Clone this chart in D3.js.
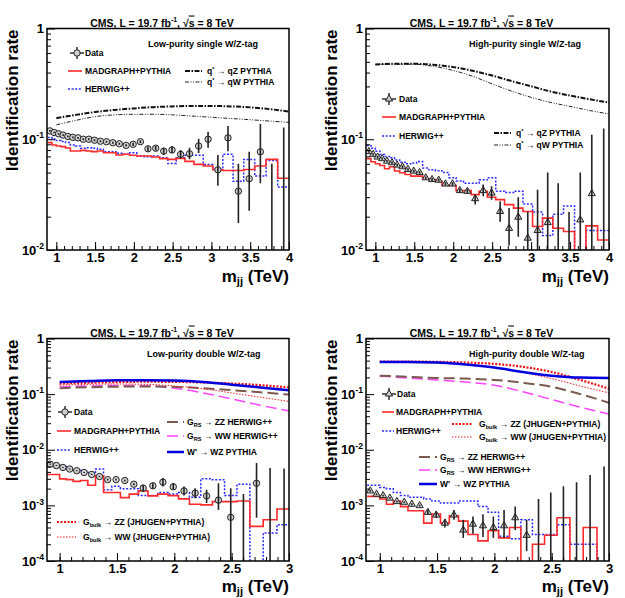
<!DOCTYPE html>
<html>
<head>
<meta charset="utf-8">
<script src="https://cdn.jsdelivr.net/npm/d3@7"></script>
<style>
body { margin: 0; background: #fff; }
svg text { font-family: "Liberation Sans", Arial, Helvetica, sans-serif; font-weight: bold; fill: #000; }
</style>
</head>
<body>
<div id="chart"></div>
<script>
// dijet mass bin edges (TeV)
const massEdges = [0.89, 0.944, 1.0, 1.058, 1.118, 1.181, 1.246, 1.313, 1.383, 1.455, 1.53, 1.607, 1.687, 1.77,
  1.856, 1.945, 2.037, 2.132, 2.231, 2.332, 2.438, 2.546, 2.659, 2.775, 2.895, 3.019, 3.147, 3.279, 3.416,
  3.558, 3.704, 3.854, 4.01];

const topTicks = [1, 1.5, 2, 2.5, 3, 3.5, 4];
const bottomTicks = [1, 1.5, 2, 2.5, 3];
const sigMassTop = [1.0, 1.25, 1.5, 1.75, 2.0, 2.25, 2.5, 2.75, 3.0, 3.25, 3.5, 3.75, 4.0];
const sigMassBottom = [1.0, 1.25, 1.5, 1.75, 2.0, 2.25, 2.5, 2.75, 3.0];

// low-purity single W/Z-tag
const lpSingleData = [0.119, 0.115, 0.112, 0.109, 0.106, 0.104, 0.103, 0.100, 0.100, 0.098, 0.096, 0.095, 0.093, 0.091,
  0.088, 0.090, 0.095, 0.082, 0.083, 0.078, 0.080, 0.073, 0.074, 0.087, 0.100, 0.053, 0.103, 0.034, 0.044, 0.077, 0, 0];
const lpSingleHi = [0.121, 0.117, 0.114, 0.111, 0.108, 0.106, 0.105, 0.102, 0.102, 0.100, 0.098, 0.097, 0.095, 0.093,
  0.090, 0.093, 0.098, 0.086, 0.087, 0.084, 0.087, 0.080, 0.084, 0.101, 0.117, 0.072, 0.132, 0.060, 0.077, 0.137, 0.060, 0.128];
const lpSingleLo = [0.117, 0.113, 0.110, 0.107, 0.104, 0.102, 0.101, 0.098, 0.098, 0.096, 0.094, 0.093, 0.091, 0.089,
  0.086, 0.087, 0.092, 0.078, 0.079, 0.073, 0.075, 0.067, 0.066, 0.075, 0.084, 0.038, 0.078, 0.0175, 0.0226, 0.040, 0, 0];
const lpSingleMadgraph = [0.0933, 0.0888, 0.0870, 0.0858, 0.0834, 0.0783, 0.0783, 0.0794, 0.0783, 0.0773, 0.0783, 0.0756,
  0.0756, 0.0721, 0.0731, 0.0716, 0.0706, 0.0706, 0.0691, 0.0668, 0.0658, 0.0672, 0.0631, 0.0593, 0.0573, 0.0530, 0.0523,
  0.0523, 0.0534, 0.0573, 0.0658, 0.0445];
const lpSingleHerwig = [0.1036, 0.1007, 0.0973, 0.0952, 0.0933, 0.0888, 0.0870, 0.0828, 0.0840, 0.0828, 0.0811, 0.0773,
  0.0773, 0.0746, 0.0731, 0.0756, 0.0706, 0.0696, 0.0706, 0.0681, 0.0605, 0.0681, 0.0716, 0.0716, 0.0593, 0.0534, 0.0731,
  0.0418, 0.0658, 0.0465, 0.0644, 0.0371];
const lpSingleQstarZ = [0.155, 0.166, 0.176, 0.184, 0.190, 0.195, 0.198, 0.200, 0.200, 0.198, 0.194, 0.187, 0.178];
const lpSingleQstarW = [0.135, 0.148, 0.160, 0.166, 0.168, 0.168, 0.166, 0.162, 0.158, 0.154, 0.150, 0.146, 0.142];

// high-purity single W/Z-tag
const hpSingleData = [0.0773, 0.0731, 0.0691, 0.0668, 0.0635, 0.0614, 0.0585, 0.0565, 0.0534, 0.0516, 0.0501, 0.0449,
  0.0433, 0.0427, 0.0395, 0.0395, 0.0344, 0.0339, 0.0291, 0.0344, 0.0327, 0.0223, 0.0157, 0.0198, 0.0128, 0.0150, 0.0177,
  0, 0, 0.0187, 0.0323, 0];
const hpSingleHi = [0.0790, 0.0748, 0.0707, 0.0684, 0.0650, 0.0629, 0.0600, 0.0580, 0.0548, 0.0530, 0.0515, 0.0462,
  0.0446, 0.0440, 0.0408, 0.0410, 0.0360, 0.0355, 0.0316, 0.0390, 0.0376, 0.0275, 0.0240, 0.0300, 0.0220, 0.0350, 0.0500,
  0.040, 0.022, 0.050, 0.110, 0.125];
const hpSingleLo = [0.0756, 0.0714, 0.0675, 0.0652, 0.0620, 0.0599, 0.0570, 0.0550, 0.0520, 0.0502, 0.0487, 0.0436,
  0.0420, 0.0414, 0.0382, 0.0380, 0.0330, 0.0323, 0.0257, 0.0305, 0.0285, 0.0180, 0.0110, 0.0132, 0, 0, 0,
  0, 0, 0, 0, 0];
const hpSingleMadgraph = [0.0668, 0.0627, 0.0601, 0.0580, 0.0541, 0.0565, 0.0516, 0.0498, 0.0481, 0.0465, 0.0465, 0.0442,
  0.0433, 0.0418, 0.0382, 0.0382, 0.0344, 0.0344, 0.0316, 0.0339, 0.0299, 0.0285, 0.0257, 0.0239, 0.0223, 0.0163, 0.0194,
  0.0157, 0.0147, 0, 0.0165, 0.0123];
const hpSingleHerwig = [0.088, 0.083, 0.078, 0.073, 0.070, 0.068, 0.065, 0.062, 0.060, 0.061, 0.063, 0.055, 0.053, 0.052,
  0.050, 0.045, 0.042, 0.040, 0.040, 0.043, 0.045, 0.034, 0.033, 0.034, 0.026, 0.022, 0.0135, 0.021, 0.025, 0, 0.015, 0.015];
const hpSingleQstarZ = [0.474, 0.480, 0.480, 0.470, 0.448, 0.415, 0.376, 0.335, 0.301, 0.270, 0.248, 0.230, 0.214];
const hpSingleQstarW = [0.474, 0.475, 0.476, 0.455, 0.418, 0.370, 0.316, 0.272, 0.239, 0.215, 0.198, 0.182, 0.169];

// low-purity double W/Z-tag
const lpDoubleData = [0.0055, 0.0052, 0.0048, 0.0045, 0.0042, 0.0039, 0.0036, 0.0033, 0.0029, 0.0029, 0.0028, 0.0024,
  0.00204, 0.00225, 0.00261, 0.00216, 0.00182, 0.00166, 0.00148, 0.00124, 0.00061, 0, 0.0025, 0, 0];
const lpDoubleHi = [0.0056, 0.0053, 0.0049, 0.0046, 0.0043, 0.0040, 0.0037, 0.0034, 0.0030, 0.0030, 0.0029, 0.0025,
  0.00234, 0.0025, 0.00309, 0.0025, 0.00218, 0.00204, 0.0019, 0.0025, 0.00204, 0.0016, 0.0058, 0.0047, 0.0046];
const lpDoubleLo = [0.0054, 0.0051, 0.0047, 0.0044, 0.0041, 0.0038, 0.0035, 0.0032, 0.0028, 0.0028, 0.0027, 0.0023,
  0.00177, 0.0020, 0.00218, 0.0019, 0.0015, 0.00135, 0.0011, 0.00083, 0, 0, 0.0006, 0, 0];
const lpDoubleMadgraph = [0.0036, 0.0036, 0.0030, 0.0029, 0.0027, 0.0028, 0.0023, 0.0034, 0.0017, 0.0017, 0.00138,
  0.00159, 0.00182, 0.00148, 0.00159, 0.0015, 0.00131, 0.00105, 0.00102, 0.00117, 0.00117, 0.0012, 0.00042, 0.00055, 0.00086];
const lpDoubleHerwig = [0.0058, 0.0053, 0.0050, 0.0046, 0.0043, 0.0041, 0.0039, 0.0045, 0.0019, 0.0022, 0.0020, 0.0020,
  0.0015, 0.0015, 0.0017, 0.0016, 0.0017, 0.0014, 0.0030, 0.0029, 0.0015, 0.0024, 0, 0.00032, 0.00045];
const lpDoubleWprime = [0.165, 0.172, 0.177, 0.178, 0.175, 0.165, 0.148, 0.132, 0.117];
const lpDoubleBulkZZ = [0.155, 0.160, 0.165, 0.167, 0.166, 0.162, 0.155, 0.145, 0.132];
const lpDoubleBulkWW = [0.145, 0.150, 0.152, 0.150, 0.140, 0.125, 0.105, 0.088, 0.074];
const lpDoubleRSZZ = [0.128, 0.133, 0.136, 0.137, 0.135, 0.128, 0.118, 0.108, 0.098];
const lpDoubleRSWW = [0.135, 0.140, 0.143, 0.142, 0.128, 0.105, 0.082, 0.063, 0.050];

// high-purity double W/Z-tag
const hpDoubleData = [0.00182, 0.00159, 0.0015, 0.00135, 0.00117, 0.00114, 0.00105, 0.00099, 0.00075, 0.00067, 0.00048,
  0.00067, 0.00036, 0.00046, 0.00043, 0.0004, 0.00043, 0.0006, 0.00029, 0, 0, 0, 0, 0, 0];
const hpDoubleHi = [0.00188, 0.00164, 0.00155, 0.0014, 0.00121, 0.00118, 0.00109, 0.00103, 0.00083, 0.00077, 0.00057,
  0.00083, 0.00055, 0.00063, 0.00069, 0.00063, 0.00083, 0.00095, 0.00055, 0.0013, 0.0017, 0.0022, 0.0026, 0.0035, 0.005];
const hpDoubleLo = [0.00176, 0.00154, 0.00145, 0.0013, 0.00113, 0.0011, 0.00101, 0.00095, 0.00067, 0.00059, 0.0004,
  0.00055, 0.00026, 0.00031, 0.00027, 0.00026, 0.00026, 0.00036, 0.00015, 0, 0, 0, 0, 0, 0];
const hpDoubleMadgraph = [0.00145, 0.00145, 0.0013, 0.00105, 0.0012, 0.00095, 0.0008, 0.0008, 0.00048, 0.0007, 0.00048,
  0.00065, 0.00052, 0.0003, 0.00023, 0.00035, 0.00026, 0.0004, 0, 0.0002, 0.00029, 0.0006, 0, 0.0004, 0];
const hpDoubleHerwig = [0.0023, 0.0023, 0.0021, 0.0020, 0.0017, 0.0015, 0.0014, 0.0014, 0.0013, 0.0012, 0.0011, 0.0011,
  0.0012, 0.0012, 0.00095, 0.00075, 0.00028, 0.00025, 0.00055, 0.0003, 0.0003, 0.00045, 0.0002, 0.0002, 0.00008];
const hpDoubleWprime = [0.380, 0.380, 0.370, 0.340, 0.300, 0.250, 0.215, 0.198, 0.195];
const hpDoubleBulkZZ = [0.385, 0.385, 0.380, 0.370, 0.350, 0.310, 0.250, 0.180, 0.125];
const hpDoubleBulkWW = [0.375, 0.370, 0.360, 0.340, 0.300, 0.245, 0.190, 0.140, 0.105];
const hpDoubleRSZZ = [0.215, 0.205, 0.195, 0.190, 0.180, 0.160, 0.135, 0.100, 0.070];
const hpDoubleRSWW = [0.210, 0.195, 0.180, 0.165, 0.145, 0.110, 0.080, 0.058, 0.044];

const lineStyles = {
  madgraph: { stroke: "#ff2a2a", width: 1.6, dash: null },
  herwig: { stroke: "#2b2bff", width: 1.5, dash: "2,1.6" },
  qZ: { stroke: "#111", width: 2, dash: "5,1.5,1.5,1.5" },
  qW: { stroke: "#222", width: 1, dash: "4,1.5,1,1.5,1,1.5" },
  bulkZZ: { stroke: "#ee1111", width: 2.2, dash: "2,1.5" },
  bulkWW: { stroke: "#ee2222", width: 1, dash: "1.5,1.5" },
  rsZZ: { stroke: "#7a5a4e", width: 2, dash: "11,5" },
  rsWW: { stroke: "#ff44ff", width: 1.5, dash: "11,5" },
  wprime: { stroke: "#0000dd", width: 2.5, dash: null }
};

const svg = d3.select("#chart").append("svg")
  .attr("width", 625).attr("height", 598).style("display", "block");

function richText(parent, x, y, parts, size, anchor) {
  const t = parent.append("text").attr("x", x).attr("y", y)
    .attr("font-size", size).attr("text-anchor", anchor || "start");
  let shift = 0;
  parts.forEach(([s, mode]) => {
    const small = mode === "sup" || mode === "sub";
    const target = mode === "sup" ? -size * 0.42 : mode === "sub" ? size * 0.18 : 0;
    const ts = t.append("tspan").attr("font-size", small ? size * 0.66 : size)
      .attr("dy", target - shift).text(s);
    if (mode === "ol") ts.attr("text-decoration", "overline");
    shift = target;
  });
  return t;
}

function drawPanel(p) {
  const x = d3.scaleLinear().domain(p.xDomain).range([p.left, p.left + p.width]);
  const y = d3.scaleLog().domain([p.yMin, 1]).range([p.top + p.height, p.top]);
  const floor = p.yMin / 4;
  const nb = p.data.length;
  const edges = massEdges.slice(0, nb + 1);
  const centers = d3.range(nb).map(i => (edges[i] + edges[i + 1]) / 2);

  svg.append("clipPath").attr("id", "clip-" + p.id).append("rect")
    .attr("x", p.left).attr("y", p.top).attr("width", p.width).attr("height", p.height);
  const plot = svg.append("g").attr("clip-path", `url(#clip-${p.id})`);

  // signal efficiency curves
  const smooth = d3.line().x(d => x(d[0])).y(d => y(d[1])).curve(d3.curveMonotoneX);
  p.signals.forEach(s => {
    const st = lineStyles[s.style];
    plot.append("path").datum(d3.zip(p.sigMass, s.values))
      .attr("d", smooth).attr("fill", "none")
      .attr("stroke", st.stroke).attr("stroke-width", st.width)
      .attr("stroke-dasharray", st.dash);
  });

  // MC histograms
  const step = d3.line().x(d => x(d[0])).y(d => y(Math.max(d[1], floor))).curve(d3.curveStepAfter);
  p.histos.forEach(h => {
    const st = lineStyles[h.style];
    const pts = edges.map((e, i) => [e, h.values[Math.min(i, nb - 1)]]);
    plot.append("path").datum(pts)
      .attr("d", step).attr("fill", "none")
      .attr("stroke", st.stroke).attr("stroke-width", st.width)
      .attr("stroke-dasharray", st.dash);
  });

  // data points
  const shown = d3.range(nb).filter(i => p.data[i] > 0);
  if (p.marker === "circle") {
    plot.selectAll(null).data(shown).join("circle")
      .attr("cx", i => x(centers[i])).attr("cy", i => y(p.data[i])).attr("r", 3.2)
      .attr("fill", "#cfcfcf").attr("stroke", "#222").attr("stroke-width", 1);
  } else {
    const tri = d3.symbol(d3.symbolTriangle).size(22)();
    plot.selectAll(null).data(shown).join("path")
      .attr("d", tri)
      .attr("transform", i => `translate(${x(centers[i])},${y(p.data[i])})`)
      .attr("fill", "#cfcfcf").attr("stroke", "#222").attr("stroke-width", 1);
  }
  plot.selectAll(null).data(d3.range(nb)).join("line")
    .attr("x1", i => x(centers[i])).attr("x2", i => x(centers[i]))
    .attr("y1", i => y(p.hi[i])).attr("y2", i => y(Math.max(p.lo[i], floor)))
    .attr("stroke", "#222").attr("stroke-width", 1.6);

  // x axis
  const minor = d3.range(Math.round(p.xDomain[0] * 10) + 1, Math.round(p.xDomain[1] * 10) + 1).map(v => v / 10);
  svg.append("g").attr("transform", `translate(0,${p.top + p.height})`)
    .call(d3.axisBottom(x).tickValues(minor).tickSize(-4).tickFormat(""))
    .call(g => g.select(".domain").remove());
  svg.append("g").attr("transform", `translate(0,${p.top + p.height})`)
    .call(d3.axisBottom(x).tickValues(p.xTicks).tickSize(-8).tickPadding(3).tickFormat(d3.format("")))
    .call(g => g.select(".domain").remove())
    .call(g => g.selectAll("text").attr("font-size", 13).attr("font-family", null));
  svg.selectAll(".tick line").attr("stroke", "#000").attr("stroke-width", 1);

  // y axis (log)
  const kMin = Math.round(Math.log10(p.yMin));
  const decades = d3.range(kMin, 1).map(k => Math.pow(10, k));
  const yMinor = [];
  d3.range(kMin, 0).forEach(k => d3.range(2, 10).forEach(m => yMinor.push(m * Math.pow(10, k))));
  svg.append("g").attr("transform", `translate(${p.left},0)`)
    .call(d3.axisLeft(y).tickValues(yMinor).tickSize(-4).tickFormat(""))
    .call(g => g.select(".domain").remove());
  svg.append("g").attr("transform", `translate(${p.left},0)`)
    .call(d3.axisLeft(y).tickValues(decades).tickSize(-8).tickFormat(""))
    .call(g => g.select(".domain").remove());
  decades.forEach(v => {
    const k = Math.round(Math.log10(v));
    const parts = k === 0 ? [["1"]] : [["10"], [String(k), "sup"]];
    richText(svg, p.left - 3, y(v) + 4.7, parts, 13, "end");
  });

  // frame
  svg.append("rect").attr("x", p.left).attr("y", p.top).attr("width", p.width).attr("height", p.height)
    .attr("fill", "none").attr("stroke", "#000").attr("stroke-width", 1.5);

  // titles
  richText(svg, p.left + p.width / 2 - 6, p.top - 2,
    [["CMS, L = 19.7 fb"], ["-1", "sup"], [", \u221A"], ["s", "ol"], [" = 8 TeV"]], 10.5, "middle");
  richText(svg, p.left + p.width, p.top + p.height + p.xTitleGap, [["m"], ["jj", "sub"], [" (TeV)"]], 17, "end");
  svg.append("text")
    .attr("transform", `translate(${p.yTitleX},${p.top + 1}) rotate(-90)`)
    .attr("text-anchor", "end").attr("font-size", 17).text("Identification rate");
  svg.append("text").attr("x", p.tag[1]).attr("y", p.tag[2]).attr("font-size", 9).text(p.tag[0]);

  // legend
  p.legend.forEach(e => {
    if (e.kind === "data") {
      const cx = (e.x1 + e.x2) / 2;
      svg.append("line").attr("x1", e.x1).attr("x2", e.x2).attr("y1", e.y).attr("y2", e.y)
        .attr("stroke", "#222").attr("stroke-width", 1.4);
      svg.append("line").attr("x1", cx).attr("x2", cx).attr("y1", e.y - 6).attr("y2", e.y + 6)
        .attr("stroke", "#222").attr("stroke-width", 1.4);
      if (p.marker === "circle") {
        svg.append("circle").attr("cx", cx).attr("cy", e.y).attr("r", 3.2)
          .attr("fill", "#cfcfcf").attr("stroke", "#222");
      } else {
        svg.append("path").attr("d", d3.symbol(d3.symbolTriangle).size(22)())
          .attr("transform", `translate(${cx},${e.y})`).attr("fill", "#cfcfcf").attr("stroke", "#222");
      }
    } else {
      const st = lineStyles[e.kind];
      svg.append("line").attr("x1", e.x1).attr("x2", e.x2).attr("y1", e.y).attr("y2", e.y)
        .attr("stroke", st.stroke).attr("stroke-width", st.width).attr("stroke-dasharray", st.dash);
    }
    richText(svg, e.tx, e.y + 3.2, e.text, 8.5, "start");
  });
}

const txtData = [["Data"]];
const txtMad = [["MADGRAPH+PYTHIA"]];
const txtHer = [["HERWIG++"]];
const txtQZ = [["q"], ["*", "sup"], [" \u2192 qZ PYTHIA"]];
const txtQW = [["q"], ["*", "sup"], [" \u2192 qW PYTHIA"]];
const txtBZZ = [["G"], ["bulk", "sub"], [" \u2192 ZZ (JHUGEN+PYTHIA)"]];
const txtBWW = [["G"], ["bulk", "sub"], [" \u2192 WW (JHUGEN+PYTHIA)"]];
const txtRZZ = [["G"], ["RS", "sub"], [" \u2192 ZZ HERWIG++"]];
const txtRWW = [["G"], ["RS", "sub"], [" \u2192 WW HERWIG++"]];
const txtWp = [["W' \u2192 WZ PYTHIA"]];

const panels = [
  {
    id: "lps", left: 47, top: 28.5, width: 242, height: 221.5, xDomain: [0.88, 4], xTicks: topTicks, yMin: 0.01,
    yTitleX: 18, xTitleGap: 31.5, marker: "circle", data: lpSingleData, hi: lpSingleHi, lo: lpSingleLo,
    histos: [{ style: "herwig", values: lpSingleHerwig }, { style: "madgraph", values: lpSingleMadgraph }],
    sigMass: sigMassTop,
    signals: [{ style: "qW", values: lpSingleQstarW }, { style: "qZ", values: lpSingleQstarZ }],
    tag: ["Low-purity single W/Z-tag", 148, 46.5],
    legend: [
      { kind: "data", x1: 70, x2: 84, y: 53, tx: 85, text: txtData },
      { kind: "madgraph", x1: 68, x2: 82, y: 71, tx: 85, text: txtMad },
      { kind: "herwig", x1: 68, x2: 82, y: 89, tx: 85, text: txtHer },
      { kind: "qZ", x1: 185, x2: 202, y: 71, tx: 207, text: txtQZ },
      { kind: "qW", x1: 185, x2: 202, y: 82, tx: 207, text: txtQW }
    ]
  },
  {
    id: "hps", left: 366, top: 28.5, width: 243, height: 221.5, xDomain: [0.88, 4], xTicks: topTicks, yMin: 0.01,
    yTitleX: 337, xTitleGap: 31.5, marker: "triangle", data: hpSingleData, hi: hpSingleHi, lo: hpSingleLo,
    histos: [{ style: "herwig", values: hpSingleHerwig }, { style: "madgraph", values: hpSingleMadgraph }],
    sigMass: sigMassTop,
    signals: [{ style: "qW", values: hpSingleQstarW }, { style: "qZ", values: hpSingleQstarZ }],
    tag: ["High-purity single W/Z-tag", 469, 46.5],
    legend: [
      { kind: "data", x1: 382, x2: 396, y: 99, tx: 399, text: txtData },
      { kind: "madgraph", x1: 382, x2: 396, y: 117, tx: 399, text: txtMad },
      { kind: "herwig", x1: 382, x2: 396, y: 136, tx: 399, text: txtHer },
      { kind: "qZ", x1: 494, x2: 511, y: 133, tx: 516, text: txtQZ },
      { kind: "qW", x1: 494, x2: 511, y: 145, tx: 516, text: txtQW }
    ]
  },
  {
    id: "lpd", left: 47, top: 338.5, width: 242, height: 222.5, xDomain: [0.89, 3], xTicks: bottomTicks, yMin: 1e-4,
    yTitleX: 18, xTitleGap: 30.5, marker: "circle", data: lpDoubleData, hi: lpDoubleHi, lo: lpDoubleLo,
    histos: [{ style: "herwig", values: lpDoubleHerwig }, { style: "madgraph", values: lpDoubleMadgraph }],
    sigMass: sigMassBottom,
    signals: [{ style: "rsWW", values: lpDoubleRSWW }, { style: "rsZZ", values: lpDoubleRSZZ },
      { style: "bulkWW", values: lpDoubleBulkWW }, { style: "bulkZZ", values: lpDoubleBulkZZ },
      { style: "wprime", values: lpDoubleWprime }],
    tag: ["Low-purity double W/Z-tag", 147, 356.5],
    legend: [
      { kind: "data", x1: 58, x2: 72, y: 412, tx: 74, text: txtData },
      { kind: "madgraph", x1: 57, x2: 71, y: 431, tx: 74, text: txtMad },
      { kind: "herwig", x1: 57, x2: 71, y: 450, tx: 74, text: txtHer },
      { kind: "rsZZ", x1: 167, x2: 184, y: 422, tx: 187, text: txtRZZ },
      { kind: "rsWW", x1: 167, x2: 184, y: 436, tx: 187, text: txtRWW },
      { kind: "wprime", x1: 167, x2: 184, y: 452, tx: 187, text: txtWp },
      { kind: "bulkZZ", x1: 57, x2: 76, y: 522, tx: 83, text: txtBZZ },
      { kind: "bulkWW", x1: 57, x2: 76, y: 537, tx: 83, text: txtBWW }
    ]
  },
  {
    id: "hpd", left: 366, top: 338.5, width: 243, height: 222.5, xDomain: [0.88, 3], xTicks: bottomTicks, yMin: 1e-4,
    yTitleX: 337, xTitleGap: 30.5, marker: "triangle", data: hpDoubleData, hi: hpDoubleHi, lo: hpDoubleLo,
    histos: [{ style: "herwig", values: hpDoubleHerwig }, { style: "madgraph", values: hpDoubleMadgraph }],
    sigMass: sigMassBottom,
    signals: [{ style: "rsWW", values: hpDoubleRSWW }, { style: "rsZZ", values: hpDoubleRSZZ },
      { style: "bulkWW", values: hpDoubleBulkWW }, { style: "bulkZZ", values: hpDoubleBulkZZ },
      { style: "wprime", values: hpDoubleWprime }],
    tag: ["High-purity double W/Z-tag", 469, 356.5],
    legend: [
      { kind: "data", x1: 382, x2: 396, y: 394, tx: 397, text: txtData },
      { kind: "madgraph", x1: 382, x2: 394, y: 412, tx: 396, text: txtMad },
      { kind: "herwig", x1: 382, x2: 394, y: 431, tx: 396, text: txtHer },
      { kind: "bulkZZ", x1: 452, x2: 472, y: 424, tx: 479, text: txtBZZ },
      { kind: "bulkWW", x1: 452, x2: 472, y: 437, tx: 479, text: txtBWW },
      { kind: "rsZZ", x1: 419, x2: 437, y: 457, tx: 440, text: txtRZZ },
      { kind: "rsWW", x1: 419, x2: 437, y: 470, tx: 440, text: txtRWW },
      { kind: "wprime", x1: 419, x2: 437, y: 484, tx: 440, text: txtWp }
    ]
  }
];

panels.forEach(drawPanel);
</script>
</body>
</html>
